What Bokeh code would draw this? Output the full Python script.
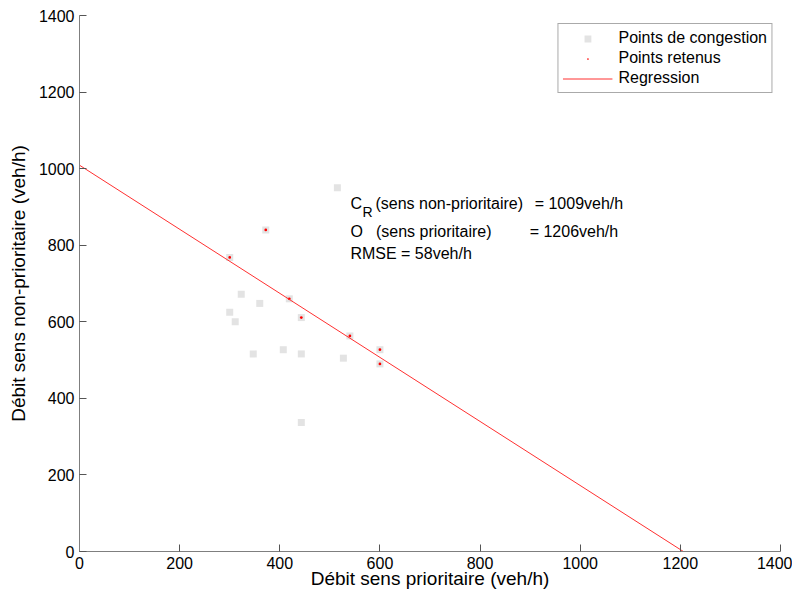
from bokeh.plotting import figure
from bokeh.models import Range1d, FixedTicker, Legend, LegendItem
from bokeh.core.properties import value
from bokeh.embed import file_html
from bokeh.resources import INLINE

# ---- data ----
cong_x = [515, 372, 300, 323, 360, 300, 311, 419, 443, 540, 600, 600, 347, 407, 443, 527, 443]
cong_y = [950, 840, 768, 672, 648, 625, 600, 660, 611, 563, 527, 490, 516, 527, 516, 505, 337]
ret_x = [372, 300, 419, 443, 540, 600, 600]
ret_y = [840, 768, 660, 611, 563, 527, 490]
reg_x = [0, 1206]
reg_y = [1009, 0]
ticks = [0, 200, 400, 600, 800, 1000, 1200, 1400]

ann_text = ["C", "(sens non-prioritaire)", "= 1009veh/h",
            "O", "(sens prioritaire)", "= 1206veh/h",
            "RMSE = 58veh/h"]
ann_x = [541, 591, 909, 541, 592, 899, 541]
ann_y = [909, 909, 909, 836, 836, 836, 778]
sub_text = ["R"]
sub_x = [565]
sub_y = [886]

FONT = "Liberation Sans"

p = figure(width=792, height=592, output_backend="svg", toolbar_location=None,
           x_range=Range1d(0, 1400), y_range=Range1d(0, 1400),
           min_border_left=79, min_border_right=12, min_border_top=15, min_border_bottom=41)
p.outline_line_color = None
p.xgrid.visible = False
p.ygrid.visible = False
p.background_fill_color = "white"
p.border_fill_color = "white"

for ax in (p.xaxis[0], p.yaxis[0]):
    ax.ticker = FixedTicker(ticks=ticks)
    ax.minor_tick_line_color = None
    ax.major_tick_in = 7
    ax.major_tick_out = 0
    ax.axis_line_color = "#7f7f7f"
    ax.major_tick_line_color = "#555555"
    ax.major_label_text_font = FONT
    ax.major_label_text_font_size = "16px"
    ax.major_label_text_color = "black"
    ax.axis_label_text_font = FONT
    ax.axis_label_text_font_size = "19px"
    ax.axis_label_text_font_style = "normal"
    ax.axis_label_text_color = "black"
    ax.major_label_standoff = 5

p.xaxis.axis_label = "Débit sens prioritaire (veh/h)"
p.yaxis.axis_label = "Débit sens non-prioritaire (veh/h)"
p.xaxis.axis_label_standoff = -4
p.yaxis.axis_label_standoff = 7

r_cong = p.scatter(cong_x, cong_y, marker="square", size=7,
                   fill_color="#e3e3e3", line_color=None)
r_ret = p.scatter(ret_x, ret_y, marker="dot", size=11,
                  line_color="#ff0000", fill_color="#ff0000")
r_reg = p.line(reg_x, reg_y, line_color="#ff3030", line_width=1)

p.text(x=ann_x, y=ann_y, text=ann_text, text_font=value(FONT), text_font_size="16px",
       text_baseline="middle", text_align="left", text_color="black")
p.text(x=sub_x, y=sub_y, text=sub_text, text_font=value(FONT), text_font_size="14px",
       text_baseline="middle", text_align="left", text_color="black")

legend = Legend(items=[
    LegendItem(label="Points de congestion", renderers=[r_cong]),
    LegendItem(label="Points retenus", renderers=[r_ret]),
    LegendItem(label="Regression", renderers=[r_reg]),
], location="top_right")
legend.label_text_font = FONT
legend.label_text_font_size = "16px"
legend.label_text_color = "black"
legend.glyph_width = 50
legend.glyph_height = 17
legend.label_height = 20
legend.label_standoff = 6
legend.spacing = 0
legend.padding = 4
legend.margin = 8
legend.border_line_color = "#555555"
legend.border_line_width = 1
legend.background_fill_color = "white"
legend.background_fill_alpha = 1
p.add_layout(legend)

open("out.html", "w").write(file_html(p, INLINE))
